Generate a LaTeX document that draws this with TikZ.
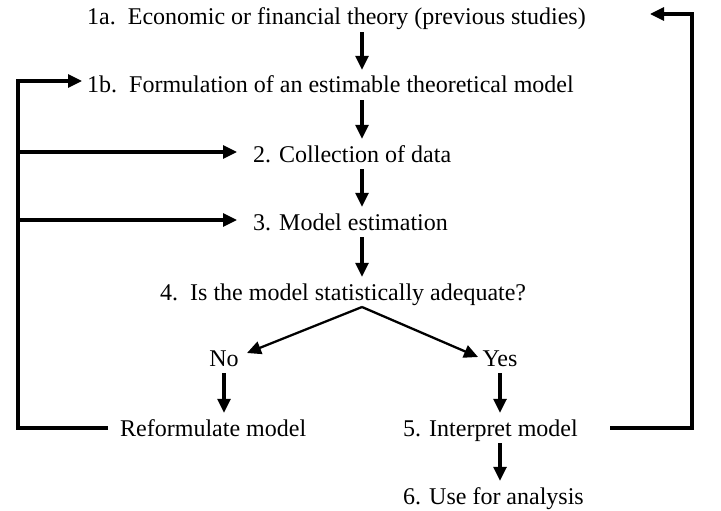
\documentclass[tikz,border=0pt]{standalone}
\usepackage{fontspec}
\setmainfont{Liberation Serif}
\usetikzlibrary{arrows.meta}
\begin{document}
\begin{tikzpicture}[x=1pt,y=-1pt,
  lbl/.style={inner sep=0pt, text height=17pt, text depth=5pt, font=\fontsize{24}{28}\selectfont},
  line/.style={line width=3.1pt},
  arr/.style={line width=3.1pt, -{Triangle[length=14pt,width=13pt]}},
  varr/.style={arr, shorten <=2pt, shorten >=6pt}]
\useasboundingbox (0,0) rectangle (721,511);
% nodes
\node[lbl, anchor=base west] (a1) at (87,25) {1a.\ \ Economic or financial theory (previous studies)};
\node[lbl, anchor=base west] (b1) at (87,93) {1b.\ \ Formulation of an estimable theoretical model};
\node[lbl, anchor=base west] (c2) at (253,162) {2. Collection of data};
\node[lbl, anchor=base west] (c3) at (253,230) {3. Model estimation};
\node[lbl, anchor=base west] (c4) at (160,300) {4.\ \ Is the model statistically adequate?};
\node[lbl, anchor=base] (no) at (224,366) {No};
\node[lbl, anchor=base] (yes) at (500,366) {Yes};
\node[lbl, anchor=base west] (ref) at (120,436) {Reformulate model};
\node[lbl, anchor=base west] (c5) at (403,436) {5. Interpret model};
\node[lbl, anchor=base west] (c6) at (403,504) {6. Use for analysis};
% column coordinates
\coordinate (col) at (362,0);
\coordinate (apex) at (362,307);
\coordinate (notip) at (247,353);
\coordinate (yestip) at (478,357);
% main column arrows
\draw[varr] (col |- a1.south) -- (col |- b1.north);
\draw[varr] (col |- b1.south) -- (col |- c2.north);
\draw[varr] (col |- c2.south) -- (col |- c3.north);
\draw[varr] (col |- c3.south) -- (col |- c4.north);
% split
\draw[arr, line width=2.3pt] (apex) -- (notip);
\draw[arr, line width=2.3pt] (apex) -- (yestip);
\draw[varr] (no.south) -- (no.south |- ref.north);
\draw[varr] (yes.south) -- (yes.south |- c5.north);
\draw[varr] (yes.south |- c5.south) -- (yes.south |- c6.north);
% left loop
\coordinate (lbot) at (18,428);
\coordinate (ltop) at (18,81);
\coordinate (l2) at (18,152);
\coordinate (l3) at (18,220);
\coordinate (refend) at (108,428);
\draw[line] (refend) -- (lbot) -- (ltop);
\draw[arr, shorten >=5pt] ([xshift=-1.55pt]ltop) -- (ltop -| b1.west);
\draw[arr, shorten >=16pt] (l2) -- (l2 -| c2.west);
\draw[arr, shorten >=16pt] (l3) -- (l3 -| c3.west);
% right loop
\coordinate (rstart) at (610,428);
\coordinate (rbot) at (692,428);
\coordinate (rtop) at (692,14);
\coordinate (rtip) at (650,14);
\draw[line] (rstart) -- (rbot) -- ([yshift=1.55pt]rtop);
\draw[arr] ([xshift=1.55pt]rtop) -- (rtip);
\end{tikzpicture}
\end{document}
